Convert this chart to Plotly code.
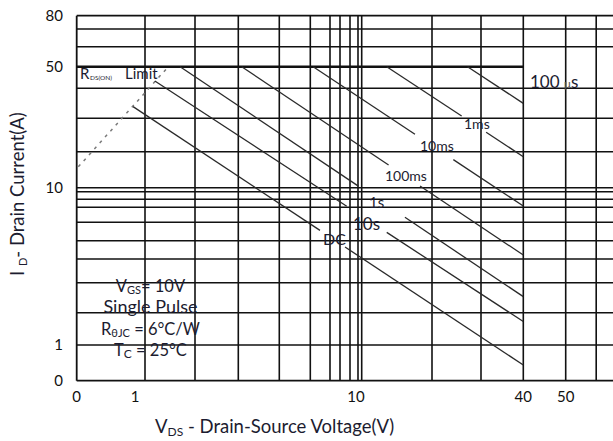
import numpy as np
import plotly.graph_objects as go

# ---- data: safe operating area boundaries (V_DS in volts, I_D in amps) ----
series_names = ["100 µs", "1ms", "10ms", "100ms", "1s", "10s", "DC"]
vds_start = [25.2, 12.9, 6.4, 3.04, 1.6, 1.23, 0.98]
id_start = [50.0, 50.0, 50.0, 50.0, 50.0, 41.3, 29.4]
vds_end = [40.0, 40.0, 40.0, 40.0, 40.0, 40.0, 40.0]
id_end = [30.7, 15.1, 7.65, 3.73, 2.03, 1.41, 0.746]
# voltage span where each boundary is interrupted by its label (None = unbroken)
gap_lo = [None, 24.0, 16.3, 13.1, 10.2, 9.08, 6.87]
gap_hi = [None, 29.4, 22.4, 17.0, 15.0, 12.9, 8.92]

# R_DS(on) limit (dashed) and package current limit
rds_v = [0.554, 1.415]
rds_i = [13.2, 50.0]
i_limit = 50.0
v_limit_end = 40.0

# tick labels
x_tick_vals = [1, 10, 40, 50]
y_tick_vals = [1, 10, 50, 80]

# ---- axis calibration (piecewise logarithmic, as printed on the sheet) ----
X_ANCHOR_LOG = np.log10([1, 10, 40, 50])
X_ANCHOR_U = np.array([135.0, 356.0, 523.3, 565.7])
Y_ANCHOR_LOG = np.log10([1, 10, 50, 80])
Y_ANCHOR_U = np.array([345.0, 187.7, 66.7, 15.7])


def _piecewise(lv, a_log, a_u):
    lv = np.atleast_1d(np.asarray(lv, dtype=float))
    out = np.interp(lv, a_log, a_u)
    lo = lv < a_log[0]
    s0 = (a_u[1] - a_u[0]) / (a_log[1] - a_log[0])
    out[lo] = a_u[0] + (lv[lo] - a_log[0]) * s0
    hi = lv > a_log[-1]
    s1 = (a_u[-1] - a_u[-2]) / (a_log[-1] - a_log[-2])
    out[hi] = a_u[-1] + (lv[hi] - a_log[-1]) * s1
    return out


def xu(v):
    return _piecewise(np.log10(v), X_ANCHOR_LOG, X_ANCHOR_U)


def yu(i):
    return _piecewise(np.log10(i), Y_ANCHOR_LOG, Y_ANCHOR_U)


# frame and grid (axis units)
FRAME_L, FRAME_T, FRAME_B, FRAME_R = 76.7, 15.7, 380.7, 620
grid_x = [145, 195, 238.3, 279.3, 310.3, 330, 340, 350, 358, 361.7,
          432, 481, 523.3, 565.7, 596.2]
grid_y = [29, 46.7, 88.3, 118.3, 151.7, 187.7, 191.7, 199.3, 207.3,
          222.3, 240.7, 259, 282.7, 312.7, 345]

FONT = "Lato, 'Open Sans', sans-serif"
GRID = "#111111"
CURVE = "#2a2a2a"
TXT = "#1c1c30"


def sub(s, size, shift=-3):
    """Lowered, smaller run of text inside a label."""
    return f"<span style='font-size:{size}px;baseline-shift:{shift}px'>{s}</span>"


fig = go.Figure()

shapes = []
for gx in grid_x:
    shapes.append(dict(type="line", xref="x", yref="y", x0=gx, x1=gx,
                       y0=FRAME_T, y1=FRAME_B, layer="below",
                       line=dict(color=GRID, width=1.6)))
for gy in grid_y:
    shapes.append(dict(type="line", xref="x", yref="y", x0=FRAME_L, x1=FRAME_R,
                       y0=gy, y1=gy, layer="below",
                       line=dict(color=GRID, width=1.6)))
# frame: left, top, bottom
shapes.append(dict(type="line", xref="x", yref="y", x0=FRAME_L, x1=FRAME_L,
                   y0=FRAME_T, y1=FRAME_B, layer="below", line=dict(color=GRID, width=1.8)))
for fy in (FRAME_T, FRAME_B):
    shapes.append(dict(type="line", xref="x", yref="y", x0=FRAME_L, x1=FRAME_R,
                       y0=fy, y1=fy, layer="below", line=dict(color=GRID, width=1.8)))

# current limit line at 50 A
lim_y = float(yu(i_limit)[0])
fig.add_trace(go.Scatter(x=[FRAME_L, float(xu(v_limit_end)[0])], y=[lim_y, lim_y],
                         mode="lines", line=dict(color=GRID, width=2.6),
                         hoverinfo="skip", showlegend=False))

# R_DS(on) limit, dashed
fig.add_trace(go.Scatter(x=xu(rds_v), y=yu(rds_i), mode="lines",
                         line=dict(color="#7a7a7a", width=1.5, dash="3px,5px"),
                         hoverinfo="skip", showlegend=False))

# pulse-width boundaries
for k, name in enumerate(series_names):
    x0, x1 = float(xu(vds_start[k])[0]), float(xu(vds_end[k])[0])
    y0, y1 = float(yu(id_start[k])[0]), float(yu(id_end[k])[0])
    if gap_lo[k] is None:
        xs, ys = [x0, x1], [y0, y1]
    else:
        ga, gb = float(xu(gap_lo[k])[0]), float(xu(gap_hi[k])[0])
        ya = y0 + (ga - x0) / (x1 - x0) * (y1 - y0)
        yb = y0 + (gb - x0) / (x1 - x0) * (y1 - y0)
        xs, ys = [x0, ga, None, gb, x1], [y0, ya, None, yb, y1]
    fig.add_trace(go.Scatter(x=xs, y=ys, mode="lines", name=name,
                             line=dict(color=CURVE, width=1.3),
                             hoverinfo="skip", showlegend=False))

annotations = []


def label(text, x, y, size, anchor="center", color=TXT):
    annotations.append(dict(text=text, x=x, y=y, xref="x", yref="y",
                            xanchor=anchor, yanchor="middle", showarrow=False,
                            font=dict(family=FONT, size=size, color=color)))


# curve labels
label("100 <span style='font-size:12px;fill:#555'>μ</span>s", 528, 81.5, 17, anchor="left")
label("1ms", 477, 123.3, 14)
label("10ms", 436.7, 145, 14)
label("100ms", 405.8, 175, 14)
label("1s", 376.7, 201.7, 15)
label("10s", 366, 223.3, 17)
label("DC", 334.3, 238.3, 16)

# R_DS(on) limit label
label("R", 78.3, 72.5, 15, anchor="left")
label("DS(ON)", 88, 77, 6.5, anchor="left")
label("Limit", 123, 72.5, 15, anchor="left")

# test conditions, one centred block
conditions = ("V" + sub("GS", 11, -2) + "= 10V<br>"
              "<span style='font-size:18px'>Single Pulse</span><br>"
              "R" + sub("θJC", 11, -2) + " = 6°C/W<br>"
              "T" + sub("C", 12, -2) + " = 25°C")
annotations.append(dict(text=conditions, x=150, y=318.5, xref="x", yref="y",
                        xanchor="center", yanchor="middle", align="center",
                        showarrow=False, font=dict(family=FONT, size=16.5, color=TXT)))

# axis titles
PLOT_L, PLOT_R, PLOT_T, PLOT_B = 70, 613, 10, 386
annotations.append(dict(text="V" + sub("DS", 12, -3) + " - Drain-Source Voltage(V)",
                        x=(274 - PLOT_L) / (PLOT_R - PLOT_L), y=(PLOT_B - 427) / (PLOT_B - PLOT_T),
                        xref="paper", yref="paper", xanchor="center", yanchor="middle",
                        showarrow=False, font=dict(family=FONT, size=18.5, color=TXT)))
annotations.append(dict(text="I " + sub("D", 11, -3) + "- Drain Current(A)", textangle=-90,
                        x=(17 - PLOT_L) / (PLOT_R - PLOT_L), y=(PLOT_B - 194) / (PLOT_B - PLOT_T),
                        xref="paper", yref="paper", xanchor="center", yanchor="middle",
                        showarrow=False, font=dict(family=FONT, size=18.5, color=TXT)))

x_tickpos = [FRAME_L] + list(xu(x_tick_vals))
x_ticktxt = ["0"] + [str(v) for v in x_tick_vals]
y_tickpos = [FRAME_B] + list(yu(y_tick_vals))
y_ticktxt = ["0"] + [str(v) for v in y_tick_vals]

fig.update_layout(
    width=613, height=441,
    margin=dict(l=PLOT_L, r=613 - PLOT_R, t=PLOT_T, b=441 - PLOT_B),
    paper_bgcolor="white", plot_bgcolor="white",
    shapes=shapes, annotations=annotations,
    xaxis=dict(range=[PLOT_L, PLOT_R], showgrid=False, zeroline=False, showline=False,
               tickmode="array", tickvals=x_tickpos, ticktext=x_ticktxt, ticks="",
               tickfont=dict(family=FONT, size=15, color="#111")),
    yaxis=dict(range=[PLOT_B, PLOT_T], showgrid=False, zeroline=False, showline=False,
               tickmode="array", tickvals=y_tickpos, ticktext=y_ticktxt, ticks="",
               ticklabelstandoff=6,
               tickfont=dict(family=FONT, size=15, color="#111")),
)

fig.write_html("out.html")
